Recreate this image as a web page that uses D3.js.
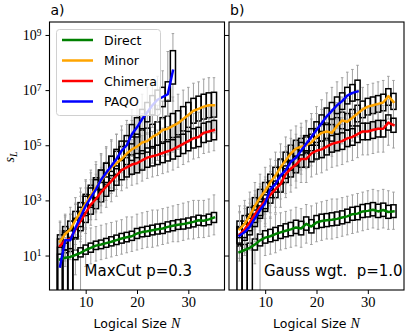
<!DOCTYPE html>
<html>
<head>
<meta charset="utf-8">
<script src="https://cdn.jsdelivr.net/npm/d3@7"></script>
<style>
  body { margin: 0; background: #fff; }
  text { font-family: "DejaVu Sans", sans-serif; }
</style>
</head>
<body>
<div id="chart"></div>
<script>
// logical sizes N (box positions)
var sizes = [5, 6, 7, 8, 9, 10, 11, 12, 13, 14, 15, 16, 17, 18, 19, 20,
  21, 22, 23, 24, 25, 26, 27, 28, 29, 30, 31, 32, 33, 34, 35];
var methods = ['Direct', 'Minor', 'Chimera', 'PAQO'];
var colors = ['#008000', '#ffa500', '#ff0000', '#0000ff'];
var yTicks = [1e1, 1e3, 1e5, 1e7, 1e9];
var xTicks = [10, 20, 30];

// all values are log10(s_L); -2 means the whisker/box runs off the bottom
// ---- panel a) MaxCut p=0.3 ----
var directA_med = [0.86, 0.92, 0.95, 1.02, 1.10, 1.20, 1.28, 1.36, 1.40, 1.45, 1.50, 1.56, 1.62, 1.66, 1.70, 1.80, 1.85, 1.88, 1.92, 1.95, 1.98, 2.04, 2.08, 2.12, 2.14, 2.18, 2.22, 2.28, 2.26, 2.31, 2.38];
var directA_q1 = [-0.9, -0.7, -0.5, 0.85, 0.95, 1.05, 1.12, 1.22, 1.25, 1.30, 1.35, 1.40, 1.45, 1.50, 1.55, 1.62, 1.68, 1.70, 1.75, 1.78, 1.80, 1.86, 1.90, 1.95, 1.96, 2.00, 2.04, 2.10, 2.08, 2.12, 2.20];
var directA_q3 = [1.05, 1.10, 1.15, 1.20, 1.28, 1.38, 1.45, 1.52, 1.56, 1.62, 1.68, 1.74, 1.80, 1.84, 1.88, 1.98, 2.02, 2.06, 2.10, 2.14, 2.16, 2.22, 2.26, 2.30, 2.32, 2.36, 2.40, 2.46, 2.44, 2.50, 2.56];
var directA_lo = [-2, -2, -2, 0.3, -2, 0.6, 0.7, 0.8, 0.85, 0.9, 0.95, 1.0, 1.05, 1.1, 1.15, 1.2, 1.25, 1.3, 1.3, 1.35, 1.4, 1.45, 1.5, 1.5, 1.55, 1.6, 1.6, 1.65, 1.65, 1.7, 1.75];
var directA_hi = [1.6, 1.65, 1.7, 1.75, 1.85, 1.95, 2.0, 2.05, 2.1, 2.15, 2.2, 2.25, 2.3, 2.4, 2.4, 2.5, 2.55, 2.6, 2.65, 2.65, 2.7, 2.75, 2.8, 2.85, 2.9, 2.95, 3.0, 3.0, 3.0, 3.05, 3.2];

var minorA_med = [1.50, 1.78, 1.95, 2.28, 2.58, 2.88, 3.18, 3.45, 3.72, 3.95, 4.20, 4.35, 4.50, 4.70, 4.85, 4.95, 5.10, 5.15, 5.30, 5.40, 5.55, 5.60, 5.70, 5.80, 5.95, 6.10, 6.25, 6.32, 6.40, 6.45, 6.45];
var minorA_q1 = [-0.6, 1.45, 1.65, 1.95, 2.25, 2.55, 2.82, 3.10, 3.35, 3.58, 3.80, 3.95, 4.10, 4.30, 4.45, 4.55, 4.70, 4.75, 4.90, 5.00, 5.12, 5.20, 5.28, 5.38, 5.52, 5.65, 5.80, 5.88, 5.95, 6.00, 6.02];
var minorA_q3 = [1.75, 2.05, 2.25, 2.60, 2.92, 3.22, 3.55, 3.82, 4.10, 4.35, 4.60, 4.78, 4.95, 5.15, 5.30, 5.40, 5.55, 5.62, 5.76, 5.85, 6.00, 6.05, 6.15, 6.25, 6.40, 6.55, 6.70, 6.78, 6.85, 6.90, 6.92];
var minorA_lo = [-2, 0.9, 1.1, 1.4, 1.7, 2.0, 2.3, 2.55, 2.8, 3.0, 3.25, 3.4, 3.55, 3.75, 3.9, 4.0, 4.15, 4.2, 4.35, 4.45, 4.6, 4.65, 4.75, 4.85, 5.0, 5.1, 5.25, 5.3, 5.4, 5.45, 5.45];
var minorA_hi = [2.2, 2.5, 2.75, 3.1, 3.45, 3.75, 4.1, 4.4, 4.7, 4.95, 5.2, 5.4, 5.55, 5.75, 5.9, 6.0, 6.15, 6.2, 6.35, 6.45, 6.6, 6.65, 6.75, 6.85, 7.0, 7.1, 7.25, 7.3, 7.4, 7.45, 7.45];

var chimeraA_med = [1.35, 1.55, 1.60, 1.95, 2.25, 2.55, 2.85, 3.05, 3.30, 3.50, 3.70, 3.90, 4.10, 4.20, 4.30, 4.35, 4.45, 4.55, 4.60, 4.65, 4.72, 4.78, 4.85, 4.95, 5.05, 5.15, 5.25, 5.30, 5.45, 5.50, 5.55];
var chimeraA_q1 = [-0.5, 1.2, 1.25, 1.6, 1.9, 2.2, 2.5, 2.7, 2.95, 3.15, 3.35, 3.55, 3.75, 3.85, 3.95, 4.0, 4.1, 4.2, 4.25, 4.3, 4.37, 4.43, 4.5, 4.6, 4.7, 4.8, 4.9, 4.95, 5.1, 5.15, 5.2];
var chimeraA_q3 = [1.6, 1.9, 1.95, 2.3, 2.6, 2.9, 3.2, 3.4, 3.65, 3.85, 4.05, 4.25, 4.45, 4.55, 4.65, 4.7, 4.8, 4.9, 4.95, 5.0, 5.07, 5.13, 5.2, 5.3, 5.4, 5.5, 5.6, 5.65, 5.8, 5.85, 5.9];
var chimeraA_lo = [-2, 0.8, 0.85, 1.2, 1.5, 1.8, 2.1, 2.3, 2.55, 2.75, 2.95, 3.15, 3.35, 3.45, 3.55, 3.6, 3.7, 3.8, 3.85, 3.9, 3.97, 4.03, 4.1, 4.2, 4.3, 4.4, 4.5, 4.55, 4.7, 4.75, 4.8];
var chimeraA_hi = [2.25, 2.45, 2.5, 2.85, 3.15, 3.45, 3.75, 3.95, 4.2, 4.4, 4.6, 4.8, 5.0, 5.1, 5.2, 5.25, 5.35, 5.45, 5.5, 5.55, 5.62, 5.68, 5.75, 5.85, 5.95, 6.05, 6.15, 6.2, 6.35, 6.4, 6.45];

var paqoA_med = [0.60, 1.55, 1.55, 2.00, 2.40, 2.80, 3.10, 3.40, 3.75, 4.00, 4.25, 4.50, 4.80, 5.00, 5.40, 5.65, 5.95, 6.20, 6.45, 6.65, 6.75, 6.85, 7.70];
var paqoA_q1 = [-0.8, 1.2, -0.3, 1.65, 2.05, 2.45, 2.75, 3.05, 3.4, 3.65, 3.9, 4.15, 4.45, 4.65, 5.05, 5.3, 5.6, 5.85, 6.1, 6.3, 6.4, 6.6, 7.22];
var paqoA_q3 = [1.3, 1.85, 1.9, 2.35, 2.75, 3.15, 3.45, 3.75, 4.1, 4.35, 4.6, 4.85, 5.15, 5.35, 5.75, 6.0, 6.3, 6.55, 6.8, 7.0, 7.1, 7.3, 8.43];
var paqoA_lo = [-2, 0.6, -2, 1.2, 1.6, 2.0, 2.3, 2.6, 2.95, 3.2, 3.45, 3.7, 4.0, 4.2, 4.6, 4.85, 5.15, 5.4, 5.65, 5.85, 5.95, 6.05, 6.6];
var paqoA_hi = [1.9, 2.4, 2.5, 2.9, 3.3, 3.7, 4.0, 4.3, 4.65, 4.9, 5.15, 5.4, 5.7, 5.9, 6.3, 6.55, 6.85, 7.1, 7.35, 7.5, 7.7, 8.4, 9.05];

// ---- panel b) Gauss wgt. p=1.0 ----
var directB_med = [1.12, 1.20, 1.28, 1.40, 1.55, 1.65, 1.70, 1.78, 1.84, 1.90, 1.95, 2.02, 1.98, 2.15, 2.05, 2.20, 2.25, 2.28, 2.30, 2.33, 2.38, 2.42, 2.50, 2.52, 2.60, 2.62, 2.66, 2.60, 2.65, 2.58, 2.60];
var directB_q1 = [-0.8, -0.6, -0.5, 1.2, 1.35, 1.45, 1.5, 1.55, 1.62, 1.68, 1.72, 1.8, 1.75, 1.92, 1.82, 1.98, 2.02, 2.05, 2.08, 2.1, 2.15, 2.2, 2.28, 2.3, 2.38, 2.4, 2.44, 2.38, 2.42, 2.35, 2.38];
var directB_q3 = [1.35, 1.4, 1.45, 1.6, 1.78, 1.9, 1.95, 2.02, 2.08, 2.15, 2.2, 2.28, 2.24, 2.4, 2.3, 2.45, 2.5, 2.52, 2.55, 2.58, 2.62, 2.68, 2.75, 2.78, 2.85, 2.88, 2.92, 2.86, 2.9, 2.82, 2.84];
var directB_lo = [-2, -2, -2, 0.7, -2, 1.0, 1.05, 1.1, 1.2, 1.25, 1.3, 1.35, 1.3, 1.45, 1.4, 1.5, 1.55, 1.6, 1.6, 1.65, 1.7, 1.75, 1.8, 1.85, 1.9, 1.95, 2.0, 1.95, 2.0, 1.95, 1.95];
var directB_hi = [1.8, 1.85, 1.9, 2.1, 2.25, 2.35, 2.4, 2.5, 2.55, 2.6, 2.65, 2.75, 2.7, 2.85, 2.8, 2.9, 2.95, 3.0, 3.05, 3.05, 3.1, 3.15, 3.2, 3.25, 3.3, 3.35, 3.4, 3.35, 3.4, 3.35, 3.3];

var minorB_med = [1.95, 2.15, 2.45, 2.80, 3.10, 3.35, 3.65, 3.90, 4.20, 4.45, 4.70, 4.88, 4.95, 5.00, 5.10, 5.30, 5.45, 5.50, 5.45, 5.70, 5.90, 5.85, 6.00, 6.15, 6.30, 6.40, 6.45, 6.50, 6.55, 6.78, 6.57];
var minorB_q1 = [1.65, 1.85, 2.15, 2.5, 2.8, 3.05, 3.35, 3.6, 3.9, 4.15, 4.4, 4.6, 4.65, 4.7, 4.8, 5.0, 5.15, 5.2, 5.15, 5.4, 5.6, 5.55, 5.7, 5.85, 6.0, 6.1, 6.15, 6.2, 6.25, 6.45, 6.3];
var minorB_q3 = [2.25, 2.45, 2.75, 3.1, 3.4, 3.65, 3.95, 4.2, 4.5, 4.75, 5.0, 5.18, 5.25, 5.3, 5.4, 5.6, 5.75, 5.8, 5.75, 6.0, 6.2, 6.15, 6.3, 6.45, 6.6, 6.7, 6.75, 6.8, 6.85, 7.05, 6.88];
var minorB_lo = [1.1, 1.3, 1.6, 1.95, 2.25, 2.5, 2.8, 3.05, 3.35, 3.6, 3.85, 4.05, 4.1, 4.15, 4.25, 4.45, 4.6, 4.65, 4.6, 4.85, 5.05, 5.0, 5.15, 5.3, 5.45, 5.55, 5.6, 5.65, 5.7, 5.95, 5.75];
var minorB_hi = [2.8, 3.0, 3.3, 3.65, 3.95, 4.2, 4.5, 4.75, 5.05, 5.3, 5.55, 5.7, 5.8, 5.85, 5.95, 6.15, 6.3, 6.35, 6.3, 6.55, 6.75, 6.7, 6.85, 7.0, 7.1, 7.2, 7.25, 7.3, 7.35, 7.5, 7.35];

var chimeraB_med = [1.75, 1.95, 2.20, 2.50, 2.75, 3.00, 3.20, 3.40, 3.60, 3.95, 4.15, 4.30, 4.50, 4.50, 4.70, 4.80, 4.85, 4.95, 5.05, 5.10, 5.15, 5.25, 5.30, 5.40, 5.50, 5.50, 5.55, 5.60, 5.60, 5.82, 5.73];
var chimeraB_q1 = [1.45, 1.65, 1.9, 2.2, 2.45, 2.7, 2.9, 3.1, 3.3, 3.65, 3.85, 4.0, 4.2, 4.2, 4.4, 4.5, 4.55, 4.65, 4.75, 4.8, 4.85, 4.95, 5.0, 5.1, 5.2, 5.2, 5.25, 5.3, 5.3, 5.55, 5.47];
var chimeraB_q3 = [2.05, 2.25, 2.5, 2.8, 3.05, 3.3, 3.5, 3.7, 3.9, 4.25, 4.45, 4.6, 4.8, 4.8, 5.0, 5.1, 5.15, 5.25, 5.35, 5.4, 5.45, 5.55, 5.6, 5.7, 5.8, 5.8, 5.85, 5.9, 5.9, 6.1, 5.98];
var chimeraB_lo = [0.9, 1.1, 1.35, 1.65, 1.9, 2.15, 2.35, 2.55, 2.75, 3.1, 3.3, 3.45, 3.65, 3.65, 3.85, 3.95, 4.0, 4.1, 4.2, 4.25, 4.3, 4.4, 4.45, 4.55, 4.65, 4.65, 4.7, 4.75, 4.75, 5.0, 4.9];
var chimeraB_hi = [2.6, 2.8, 3.05, 3.35, 3.6, 3.85, 4.05, 4.25, 4.45, 4.8, 5.0, 5.15, 5.35, 5.35, 5.55, 5.65, 5.7, 5.8, 5.9, 5.95, 6.0, 6.1, 6.15, 6.25, 6.35, 6.35, 6.4, 6.45, 6.45, 6.65, 6.55];

var paqoB_med = [1.72, 1.85, 2.05, 2.35, 2.65, 2.90, 3.40, 3.60, 3.90, 4.10, 4.40, 4.55, 4.80, 5.05, 5.30, 5.55, 5.80, 6.05, 6.25, 6.45, 6.60, 6.80, 6.90, 6.95];
var paqoB_q1 = [1.4, 1.55, 1.75, 2.05, 2.35, 2.6, 3.1, 3.3, 3.6, 3.8, 4.1, 4.25, 4.5, 4.75, 5.0, 5.25, 5.5, 5.75, 5.95, 6.15, 6.3, 6.5, 6.6, 6.65];
var paqoB_q3 = [2.0, 2.15, 2.35, 2.65, 2.95, 3.2, 3.7, 3.9, 4.2, 4.4, 4.7, 4.85, 5.1, 5.35, 5.6, 5.85, 6.1, 6.35, 6.55, 6.75, 6.9, 7.1, 7.2, 7.36];
var paqoB_lo = [0.8, 1.0, 1.2, 1.5, 1.8, 2.05, 2.55, 2.75, 3.05, 3.25, 3.55, 3.7, 3.95, 4.2, 4.45, 4.7, 4.95, 5.2, 5.4, 5.6, 5.75, 5.95, 6.05, 6.1];
var paqoB_hi = [2.55, 2.7, 2.9, 3.2, 3.5, 3.75, 4.25, 4.45, 4.75, 4.95, 5.25, 5.4, 5.65, 5.9, 6.15, 6.4, 6.65, 6.9, 7.1, 7.3, 7.45, 7.65, 7.75, 7.9];

function series(med, q1, q3, lo, hi) {
  return med.map(function(m, i) {
    return { n: sizes[i], med: m, q1: q1[i], q3: q3[i], lo: lo[i], hi: hi[i] };
  });
}

var panels = [
  {
    tag: 'a)', label: 'MaxCut p=0.3', left: 49.5, right: 224.5,
    data: [
      series(directA_med, directA_q1, directA_q3, directA_lo, directA_hi),
      series(minorA_med, minorA_q1, minorA_q3, minorA_lo, minorA_hi),
      series(chimeraA_med, chimeraA_q1, chimeraA_q3, chimeraA_lo, chimeraA_hi),
      series(paqoA_med, paqoA_q1, paqoA_q3, paqoA_lo, paqoA_hi)
    ]
  },
  {
    tag: 'b)', label: 'Gauss wgt.\u00a0 p=1.0', left: 229, right: 404,
    data: [
      series(directB_med, directB_q1, directB_q3, directB_lo, directB_hi),
      series(minorB_med, minorB_q1, minorB_q3, minorB_lo, minorB_hi),
      series(chimeraB_med, chimeraB_q1, chimeraB_q3, chimeraB_lo, chimeraB_hi),
      series(paqoB_med, paqoB_q1, paqoB_q3, paqoB_lo, paqoB_hi)
    ]
  }
];

var W = 416, H = 333, plotTop = 22, plotBottom = 290;
var serif = '"Liberation Serif", "DejaVu Serif", serif';

var svg = d3.select('#chart').append('svg')
  .attr('width', W)
  .attr('height', H);

var y = d3.scaleLog().domain([Math.pow(10, -0.25), Math.pow(10, 9.47)]).range([plotBottom, plotTop]);
function yv(v) { return y(Math.pow(10, v)); }

panels.forEach(function(p, pi) {
  var x = d3.scaleLinear().domain([2.95, 37.05]).range([p.left, p.right]);
  var bw = x(5.5) - x(5);   // half box width
  var cw = bw * 0.5;        // half cap width

  var clipId = 'clip' + pi;
  svg.append('clipPath').attr('id', clipId)
    .append('rect')
    .attr('x', p.left).attr('y', plotTop)
    .attr('width', p.right - p.left).attr('height', plotBottom - plotTop);

  var plot = svg.append('g').attr('clip-path', 'url(#' + clipId + ')');
  var boxLayer = plot.append('g').attr('class', 'box-layer');
  var lineLayer = plot.append('g').attr('class', 'line-layer');

  p.data.forEach(function(rows) {
    var g = boxLayer.append('g');
    // whiskers
    g.selectAll('line.wlo').data(rows).enter().append('line')
      .attr('x1', function(d) { return x(d.n); })
      .attr('x2', function(d) { return x(d.n); })
      .attr('y1', function(d) { return yv(d.q1); })
      .attr('y2', function(d) { return yv(d.lo); })
      .attr('stroke', '#a0a0a0').attr('stroke-width', 1);
    g.selectAll('line.whi').data(rows).enter().append('line')
      .attr('x1', function(d) { return x(d.n); })
      .attr('x2', function(d) { return x(d.n); })
      .attr('y1', function(d) { return yv(d.q3); })
      .attr('y2', function(d) { return yv(d.hi); })
      .attr('stroke', '#a0a0a0').attr('stroke-width', 1);
    // caps
    ['lo', 'hi'].forEach(function(k) {
      g.selectAll('line.cap-' + k).data(rows).enter().append('line')
        .attr('x1', function(d) { return x(d.n) - cw; })
        .attr('x2', function(d) { return x(d.n) + cw; })
        .attr('y1', function(d) { return yv(d[k]); })
        .attr('y2', function(d) { return yv(d[k]); })
        .attr('stroke', '#a0a0a0').attr('stroke-width', 1);
    });
    // boxes
    g.selectAll('rect.box').data(rows).enter().append('rect')
      .attr('x', function(d) { return x(d.n) - bw; })
      .attr('width', 2 * bw)
      .attr('y', function(d) { return yv(d.q3); })
      .attr('height', function(d) { return yv(d.q1) - yv(d.q3); })
      .attr('fill', 'none')
      .attr('stroke', '#000').attr('stroke-width', 1.5);
  });

  p.data.forEach(function(rows, si) {
    lineLayer.append('path').datum(rows)
      .attr('fill', 'none')
      .attr('stroke', colors[si])
      .attr('stroke-width', 2.5)
      .attr('stroke-linecap', 'square')
      .attr('stroke-linejoin', 'round')
      .attr('d', d3.line()
        .x(function(d) { return x(d.n); })
        .y(function(d) { return yv(d.med); }));
  });

  // frame
  svg.append('rect')
    .attr('x', p.left).attr('y', plotTop)
    .attr('width', p.right - p.left).attr('height', plotBottom - plotTop)
    .attr('fill', 'none').attr('stroke', '#000').attr('stroke-width', 1.1);

  // x axis
  var xa = svg.append('g')
    .attr('transform', 'translate(0,' + plotBottom + ')')
    .call(d3.axisBottom(x).tickValues(xTicks).tickSize(4).tickPadding(3).tickFormat(d3.format('d')));
  xa.select('.domain').remove();
  xa.selectAll('text').attr('font-size', 14.5).attr('fill', '#000')
    .style('font-family', serif);

  // y axis (labels only on the left panel)
  var ya = svg.append('g')
    .attr('transform', 'translate(' + p.left + ',0)')
    .call(d3.axisLeft(y).tickValues(yTicks).tickSize(4).tickPadding(4).tickFormat(''));
  ya.select('.domain').remove();
  if (pi === 0) {
    ya.selectAll('.tick').each(function(d) {
      var t = d3.select(this).select('text')
        .attr('font-size', 14).attr('fill', '#000').attr('dy', '0.32em')
        .style('font-family', serif);
      t.text(null);
      t.append('tspan').text('10');
      t.append('tspan').attr('dy', '-0.45em').attr('font-size', 9.5)
        .text(Math.round(Math.log10(d)));
    });
  }

  // panel tag
  svg.append('text')
    .attr('x', p.left + 1).attr('y', 15)
    .attr('font-size', 14)
    .text(p.tag);

  // x label
  var xl = svg.append('text')
    .attr('x', (p.left + p.right) / 2).attr('y', 328)
    .attr('text-anchor', 'middle')
    .attr('font-size', 12.5);
  xl.append('tspan').text('Logical Size ');
  xl.append('tspan').style('font-family', serif)
    .attr('font-style', 'italic').attr('font-size', 14).text('N');

  // annotation
  svg.append('text')
    .attr('x', p.left + 35).attr('y', 276)
    .attr('font-size', 15)
    .text(p.label);
});

// y label s_L
var yl = svg.append('text')
  .attr('transform', 'translate(14,157) rotate(-90)')
  .attr('text-anchor', 'middle')
  .style('font-family', serif)
  .attr('font-style', 'italic')
  .attr('font-size', 14);
yl.append('tspan').text('s');
yl.append('tspan').attr('dy', '0.3em').attr('font-size', 10).text('L');

// legend
var lg = svg.append('g').attr('class', 'legend');
lg.append('rect')
  .attr('x', 56.5).attr('y', 29.5)
  .attr('width', 104).attr('height', 86)
  .attr('rx', 3)
  .attr('fill', '#fff').attr('fill-opacity', 0.8)
  .attr('stroke', '#d0d0d0').attr('stroke-width', 1);
var ly = d3.scalePoint().domain(methods).range([40, 101.5]);
methods.forEach(function(m, i) {
  lg.append('line')
    .attr('x1', 62).attr('x2', 93)
    .attr('y1', ly(m)).attr('y2', ly(m))
    .attr('stroke', colors[i]).attr('stroke-width', 2.5);
  lg.append('text')
    .attr('x', 104).attr('y', ly(m) + 4.5)
    .attr('font-size', 12.5)
    .text(m);
});
</script>
</body>
</html>
